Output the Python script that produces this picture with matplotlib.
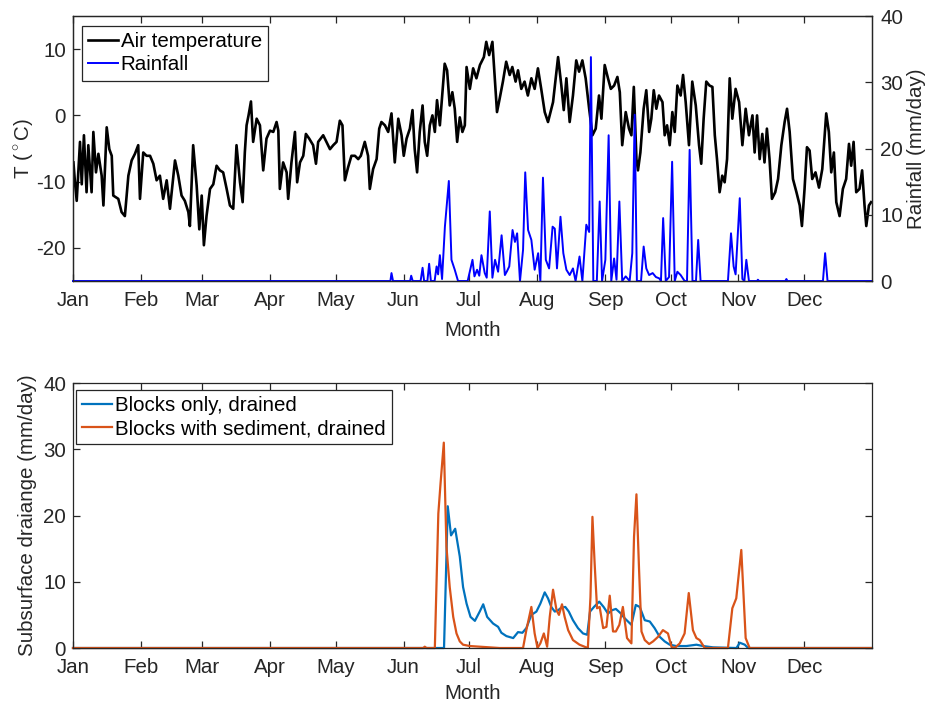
import numpy as np
import matplotlib
matplotlib.use("Agg")
import matplotlib.pyplot as plt

plt.rcParams['font.family'] = ['Liberation Sans', 'DejaVu Sans']
plt.rcParams['mathtext.fontset'] = 'custom'
plt.rcParams['mathtext.rm'] = 'Liberation Sans'
plt.rcParams['axes.unicode_minus'] = False
plt.rcParams['font.size'] = 14.8

# month ticks (day of year)
month_days = [0, 31, 59, 90, 120, 151, 181, 212, 243, 273, 304, 334]
month_labels = ["Jan", "Feb", "Mar", "Apr", "May", "Jun", "Jul", "Aug", "Sep", "Oct", "Nov", "Dec"]

# air temperature (day, degC)
temp_day = [0.2, 0.9, 1.7, 3.2, 4.0, 5.0, 6.2, 7.0, 8.5, 9.3, 10.5, 11.6, 13.1, 13.9, 15.4, 16.6,
            17.7, 18.4, 20.7, 22.2, 23.7, 25.3, 26.8, 28.3, 29.8, 30.6, 32.1, 33.6, 35.2, 36.7,
            38.2, 39.7, 41.2, 42.8, 44.3, 46.6, 48.1, 49.6, 51.1, 52.7, 53.4, 54.9, 56.5, 57.7,
            58.8, 59.8, 61.0, 62.6, 64.1, 65.6, 67.1, 68.6, 70.2, 71.7, 73.2, 74.7, 76.3, 77.5,
            78.5, 79.3, 80.2, 81.3, 82.3, 83.9, 85.4, 86.9, 88.4, 90.0, 91.5, 93.0, 93.8, 94.5,
            96.0, 97.6, 98.3, 99.8, 101.4, 102.4, 103.7, 105.2, 106.4, 107.9, 109.7, 111.0,
            112.0, 114.3, 115.8, 117.4, 118.9, 120.4, 121.9, 123.1, 124.2, 125.7, 127.2, 128.8,
            130.3, 131.5, 133.3, 134.8, 135.6, 137.1, 138.7, 139.9, 140.9, 142.5, 144.0, 145.5,
            147.0, 148.6, 150.1, 151.1, 152.4, 153.9, 155.1, 156.1, 157.2, 158.4, 159.7, 160.7,
            161.8, 163.0, 164.2, 165.3, 166.3, 167.6, 168.8, 169.8, 170.9, 172.1, 173.3, 174.4,
            175.5, 176.7, 177.9, 179.0, 179.8, 181.3, 182.8, 184.3, 185.9, 187.7, 188.8, 190.1,
            191.6, 192.6, 193.7, 194.9, 196.4, 197.9, 199.5, 200.7, 202.2, 203.3, 204.8, 206.3,
            207.8, 209.4, 210.9, 212.4, 213.9, 215.5, 217.0, 219.3, 221.6, 223.1, 224.2, 225.4,
            226.9, 228.4, 229.9, 231.2, 232.7, 234.2, 235.8, 237.3, 238.8, 240.3, 241.4, 242.9,
            244.4, 245.7, 247.2, 248.7, 249.8, 250.9, 252.5, 254.0, 255.1, 256.2, 257.4, 258.1,
            259.2, 260.7, 261.9, 263.2, 264.2, 265.3, 266.5, 267.7, 269.3, 270.3, 271.4, 272.6,
            273.8, 274.9, 276.1, 277.6, 278.7, 279.9, 281.4, 282.9, 284.5, 286.0, 287.0, 288.1,
            289.3, 290.8, 292.1, 293.2, 294.2, 295.4, 296.6, 297.7, 298.8, 300.0, 301.2, 302.7,
            304.3, 305.8, 307.3, 308.8, 310.4, 311.4, 312.5, 313.7, 314.9, 315.9, 317.0, 318.2,
            319.3, 320.8, 322.1, 323.6, 325.1, 326.2, 327.4, 328.9, 330.5, 332.0, 333.0, 334.2,
            335.3, 336.5, 337.7, 339.2, 340.8, 342.3, 343.3, 344.1, 345.3, 346.4, 347.6, 348.7,
            350.2, 351.7, 353.2, 354.5, 355.5, 356.6, 357.8, 359.3, 360.5, 361.6, 362.4, 363.6,
            364.6]
temp_val = [-7.1, -10.1, -12.9, -4.0, -10.4, -3.0, -11.6, -4.5, -11.6, -2.5, -8.6, -5.8, -9.1, -13.6,
            -1.8, -5.1, -6.1, -12.1, -12.6, -14.6, -15.2, -9.1, -6.8, -5.8, -4.5, -12.6, -5.6, -6.1,
            -6.1, -7.3, -9.8, -9.1, -12.6, -9.8, -14.1, -6.8, -9.1, -12.1, -12.9, -14.6, -16.7, -4.5,
            -10.6, -17.2, -12.1, -19.6, -15.2, -11.1, -10.4, -7.6, -8.3, -8.6, -11.1, -13.6, -14.1,
            -4.5, -10.1, -13.1, -5.6, -1.5, 0.0, 2.1, -4.0, -0.5, -1.5, -8.3, -3.5, -2.3, -2.5, -1.0,
            -2.3, -11.1, -7.1, -8.6, -12.6, -7.1, -2.5, -10.1, -7.1, -6.1, -2.8, -3.5, -4.5, -7.3,
            -4.0, -3.0, -4.0, -5.1, -4.5, -4.0, -0.8, -1.5, -9.8, -7.8, -6.1, -6.1, -6.6, -6.1, -4.0,
            -6.1, -11.1, -8.1, -6.6, -2.0, -1.0, -1.5, -2.5, 0.3, -7.1, -0.5, -3.0, -6.1, -3.5, -2.0,
            0.8, -5.1, -8.6, -2.5, 1.5, -4.0, -6.1, -1.5, 0.0, -2.5, 2.3, -1.5, 3.5, 7.8, 6.8, 1.5,
            3.5, 1.0, -4.0, -0.3, -2.5, -1.5, 7.3, 4.0, 7.1, 5.6, 7.6, 8.8, 11.1, 9.1, 11.1, 6.1,
            0.5, 2.5, 5.1, 8.1, 6.1, 7.3, 5.1, 6.8, 4.0, 5.1, 3.0, 5.6, 4.0, 7.1, 4.0, 0.5, -1.0,
            2.0, 8.8, 4.5, 0.8, 5.6, -1.0, 3.0, 8.3, 6.6, 8.3, 5.6, 1.0, -3.0, -2.0, 3.0, -0.5, 7.6,
            5.6, 4.0, 4.5, 5.8, 3.5, -4.5, 0.5, -2.0, -3.0, 4.3, -6.6, -8.3, -5.6, 1.0, 3.8, -2.5,
            -0.5, 3.8, 1.0, 3.0, 2.0, -3.0, -1.5, -4.5, 0.5, -2.5, 4.5, 3.0, 6.1, 2.0, -4.5, 5.1,
            1.5, -4.5, -7.3, -0.5, 5.1, 4.5, 4.3, -3.0, -6.6, -11.6, -9.1, -10.1, -6.6, 5.6, -0.5,
            4.0, 2.0, -4.5, 1.0, -3.0, 0.0, -5.6, 0.0, -6.6, -2.8, -7.1, -2.0, -6.6, -12.6, -11.6,
            -9.6, -4.5, -1.0, 1.0, -2.5, -9.6, -11.6, -13.6, -16.7, -11.1, -4.8, -5.3, -9.6, -8.6,
            -10.9, -8.1, -3.5, 0.3, -2.5, -8.6, -5.6, -13.1, -15.2, -11.1, -9.6, -4.3, -7.6, -4.0,
            -11.6, -11.1, -8.3, -13.6, -16.7, -13.6, -13.1]

# rainfall (day, mm/day)
rain_day = [0, 145.0, 145.5, 146.2, 154.0, 154.5, 155.2, 158.8, 159.7, 160.4, 161.9, 162.7, 163.5,
            165.2, 166.1, 166.8, 167.6, 168.6, 169.9, 171.7, 172.9, 174.4, 175.9, 180.3, 182.5,
            183.4, 184.6, 185.6, 186.6, 188.1, 189.0, 190.4, 191.6, 192.8, 194.2, 195.8, 197.3,
            198.3, 199.3, 200.8, 201.9, 202.9, 204.2, 205.6, 206.6, 207.9, 209.4, 210.9, 212.5,
            213.5, 214.7, 216.0, 217.5, 219.1, 220.1, 221.1, 222.7, 224.0, 225.4, 226.9, 228.4,
            229.6, 231.4, 232.7, 234.5, 235.8, 236.6, 237.7, 239.3, 240.6, 241.7, 243.2, 244.7,
            245.9, 247.2, 248.3, 249.6, 250.9, 252.5, 254.3, 255.5, 256.6, 257.6, 259.5, 260.7,
            261.9, 263.2, 264.8, 266.3, 267.8, 268.6, 269.6, 270.8, 272.3, 273.7, 274.9, 276.1,
            277.6, 279.4, 280.5, 281.7, 283.0, 284.6, 285.6, 286.7, 299.2, 300.6, 301.8, 302.7,
            304.6, 305.8, 306.7, 307.6, 308.8, 312.5, 312.9, 313.4, 325.4, 325.9, 326.4, 342.6,
            343.6, 344.7, 365]
rain_val = [0, 0, 1.2, 0, 0, 0.8, 0, 0, 2.0, 0, 0, 2.6, 0, 0, 2.2, 1.0, 3.9, 0.3, 8.2, 15.1, 3.2,
            1.7, 0, 0, 3.2, 0.7, 1.7, 0.8, 3.9, 1.2, 0.5, 10.5, 0.5, 3.2, 1.4, 6.9, 0.9, 1.5, 2.2,
            7.7, 5.9, 7.2, 0, 4.7, 16.4, 7.7, 6.2, 1.7, 4.2, 0, 15.6, 3.2, 1.9, 8.2, 7.9, 1.9, 9.7,
            4.2, 1.7, 0.9, 1.9, 0, 3.7, 0, 8.5, 7.4, 33.8, 0, 0, 12.0, 0, 3.2, 22.0, 0, 3.4, 0.2,
            12.0, 0, 0.7, 0, 4.2, 25.1, 0, 0, 5.2, 1.9, 0.9, 1.2, 0.6, 0.4, 0, 9.5, 0, 0.6, 18.0,
            0, 1.4, 0.9, 0, 0, 19.8, 0, 0, 6.2, 0, 0, 7.2, 2.2, 1.0, 12.5, 0.3, 0, 3.2, 0, 0, 0.2,
            0, 0, 0.3, 0, 0, 4.2, 0, 0]

# subsurface drainage (day, mm/day)
blocks_day = [0, 169.5, 171.2, 172.7, 174.6, 176.7, 178.2, 179.8, 181.6, 183.6, 185.8, 187.4, 189.2,
              191.9, 194.2, 195.7, 198.0, 201.1, 203.3, 205.3, 207.1, 209.4, 211.7, 213.5, 215.5,
              217.0, 218.5, 220.1, 221.6, 223.1, 224.9, 226.5, 228.4, 230.7, 233.0, 234.9, 236.2,
              238.0, 240.4, 242.4, 244.4, 246.2, 248.0, 250.0, 252.0, 255.1, 257.1, 258.9, 261.2,
              263.5, 265.7, 268.0, 270.3, 272.6, 275.6, 280.2, 284.8, 287.8, 292.4, 303.1, 304.6,
              306.9, 308.4, 365]
blocks_val = [0, 0, 21.4, 17.0, 18.0, 13.8, 9.2, 6.7, 4.7, 4.1, 5.5, 6.6, 4.7, 3.7, 3.2, 2.3, 1.8,
              1.5, 2.4, 2.3, 3.0, 5.0, 5.5, 6.7, 8.4, 7.5, 6.2, 5.5, 5.7, 6.1, 6.2, 5.5, 4.2, 3.0,
              2.2, 2.0, 5.5, 6.2, 7.0, 6.2, 5.2, 5.7, 5.9, 5.3, 4.5, 3.5, 6.5, 6.2, 4.2, 4.0, 3.0,
              1.7, 1.0, 0.5, 0.3, 0.3, 0.5, 0.3, 0.1, 0, 0.8, 0.5, 0, 0]

sed_day = [0, 160.0, 160.7, 161.5, 165.3, 166.9, 167.9, 169.4, 170.6, 172.1, 173.7, 175.2, 176.7,
           178.2, 181.3, 185.8, 194.9, 205.6, 207.1, 209.4, 210.9, 212.2, 213.5, 215.1, 216.6,
           217.8, 219.3, 220.9, 222.0, 223.4, 224.6, 226.2, 228.4, 231.4, 235.2, 236.4, 237.3,
           238.3, 239.4, 240.6, 242.2, 243.7, 245.2, 246.7, 248.0, 249.6, 251.2, 253.1, 255.1,
           256.3, 257.4, 258.6, 259.7, 261.2, 263.2, 265.0, 267.3, 269.5, 271.8, 273.4, 274.9,
           277.2, 279.4, 281.3, 283.2, 284.8, 286.3, 288.6, 299.2, 301.2, 303.0, 305.3, 307.3,
           309.1, 365]
sed_val = [0, 0, 0.2, 0, 0, 20.3, 24.8, 31.0, 15.3, 9.2, 4.7, 2.2, 1.0, 0.5, 0.3, 0.2, 0, 0, 2.7,
           6.2, 2.2, 0, 0.7, 2.2, 0.2, 4.7, 8.8, 5.7, 5.0, 6.6, 4.7, 2.7, 1.2, 0.5, 0, 7.7, 19.8,
           12.8, 6.0, 6.2, 3.0, 3.2, 7.9, 2.5, 2.5, 3.5, 6.2, 1.5, 0.7, 16.8, 23.2, 11.8, 2.5, 1.2,
           0.6, 1.0, 1.7, 2.7, 2.2, 0.2, 0, 0.7, 2.2, 8.3, 2.7, 1.5, 1.2, 0, 0, 6.0, 7.5, 14.8,
           1.5, 0, 0]

axis_col = '#262626'

fig = plt.figure(figsize=(9.31, 7.02), dpi=100)

def style(ax):
    for s in ax.spines.values():
        s.set_color(axis_col)
        s.set_linewidth(0.9)
    ax.tick_params(direction='in', length=5, width=0.9, colors=axis_col, labelcolor=axis_col)
    ax.tick_params(axis='y', pad=5)
    ax.set_xlim(0, 365)
    ax.set_xticks(month_days)
    ax.set_xticklabels(month_labels)
    ax.tick_params(axis='x', top=True, pad=7)

# ---- top panel: temperature + rainfall ----
ax1 = fig.add_axes([0.0784, 0.5997, 0.8582, 0.3775])
style(ax1)
ln1, = ax1.plot(temp_day, temp_val, color='black', lw=1.9)
ax1.set_ylim(-25, 15)
ax1.set_yticks([-20, -10, 0, 10])
ax1.set_ylabel(r'T ($^\circ$C)', color=axis_col, labelpad=0)
ax1.set_xlabel('Month', color=axis_col, labelpad=8)

ax2 = ax1.twinx()
for s in ax2.spines.values():
    s.set_color(axis_col)
    s.set_linewidth(0.9)
ax2.tick_params(direction='in', length=5, width=0.9, colors=axis_col, labelcolor=axis_col, pad=6)
ln2, = ax2.plot(rain_day, rain_val, color='#0000FF', lw=1.4, clip_on=False)
ax2.set_ylim(0, 40)
ax2.set_yticks([0, 10, 20, 30, 40])
ax2.set_ylabel('Rainfall (mm/day)', color=axis_col, labelpad=3)

leg = ax2.legend([ln1, ln2], ['Air temperature', 'Rainfall'], loc='upper left',
                 bbox_to_anchor=(0.011, 0.962), borderaxespad=0, fancybox=False,
                 edgecolor=axis_col, framealpha=1, handlelength=1.45, handletextpad=0.15,
                 labelspacing=0.2, borderpad=0.3)
leg.get_frame().set_linewidth(0.9)

# ---- bottom panel: subsurface drainage ----
ax3 = fig.add_axes([0.0784, 0.0769, 0.8582, 0.3775])
style(ax3)
ax3.tick_params(axis='y', right=True)
ln3, = ax3.plot(blocks_day, blocks_val, color='#0072BD', lw=1.6, clip_on=False)
ln4, = ax3.plot(sed_day, sed_val, color='#D95319', lw=1.6, clip_on=False)
ax3.set_ylim(0, 40)
ax3.set_yticks([0, 10, 20, 30, 40])
ax3.set_ylabel('Subsurface draiange (mm/day)', color=axis_col, labelpad=4)
ax3.set_xlabel('Month', color=axis_col, labelpad=5)
leg2 = ax3.legend([ln3, ln4], ['Blocks only, drained', 'Blocks with sediment, drained'],
                  loc='upper left', bbox_to_anchor=(0.004, 0.974), borderaxespad=0,
                  fancybox=False, edgecolor=axis_col, framealpha=1, handlelength=1.45,
                  handletextpad=0.15, labelspacing=0.2, borderpad=0.3)
leg2.get_frame().set_linewidth(0.9)

fig.savefig('out.png', dpi=100)
